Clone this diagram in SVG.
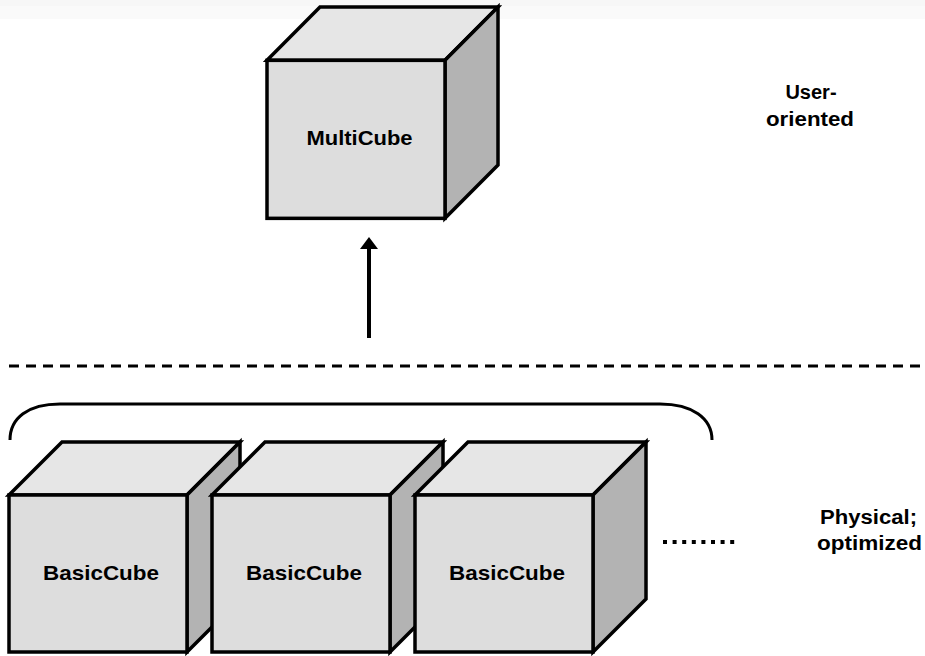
<svg xmlns="http://www.w3.org/2000/svg" width="925" height="656" viewBox="0 0 925 656">
<style>
.front{fill:#dddddd;stroke:#000;stroke-width:3.5;stroke-linejoin:miter}
.top{fill:#e6e6e6;stroke:#000;stroke-width:3.5;stroke-linejoin:miter}
.side{fill:#b3b3b3;stroke:#000;stroke-width:3.5;stroke-linejoin:miter}
.lbl{font-family:"Liberation Sans",Arial,sans-serif;font-weight:bold;font-size:21px;fill:#000;text-anchor:middle}
.side-lbl{font-family:"Liberation Sans",Arial,sans-serif;font-weight:bold;font-size:20px;fill:#000;text-anchor:middle}
</style>
<defs>
<g id="cube">
<polygon class="top" points="0,53 53,0 231,0 178,53"/>
<polygon class="side" points="178,53 231,0 231,157 178,210"/>
<rect class="front" x="0" y="53" width="178" height="157"/>
</g>
</defs>
<rect x="0" y="0" width="925" height="19" fill="#fafafa"/>
<rect x="0" y="0" width="925" height="6" fill="#f7f7f7"/>
<g id="multicube">
<use href="#cube" transform="translate(267,7) scale(1,1.0064)"/>
<text class="lbl" x="359.5" y="145" textLength="106" lengthAdjust="spacingAndGlyphs">MultiCube</text>
</g>
<g id="basiccube1">
<use href="#cube" transform="translate(9,442)"/>
<text class="lbl" x="101" y="580" textLength="116" lengthAdjust="spacingAndGlyphs">BasicCube</text>
</g>
<g id="basiccube2">
<use href="#cube" transform="translate(212,442)"/>
<text class="lbl" x="304" y="580" textLength="116" lengthAdjust="spacingAndGlyphs">BasicCube</text>
</g>
<g id="basiccube3">
<use href="#cube" transform="translate(415,442)"/>
<text class="lbl" x="507" y="580" textLength="116" lengthAdjust="spacingAndGlyphs">BasicCube</text>
</g>
<g id="connectors">
<line x1="369" y1="338" x2="369" y2="247" stroke="#000" stroke-width="4"/>
<polygon points="360,249 378,249 369,237" fill="#000"/>
<line x1="9" y1="366" x2="925" y2="366" stroke="#000" stroke-width="3" stroke-dasharray="10 7"/>
<path d="M 10 440 C 10 418, 28 404, 60 404 L 660 404 C 692 404, 712 418, 712 440" fill="none" stroke="#000" stroke-width="3"/>
<line x1="663" y1="542" x2="736" y2="542" stroke="#000" stroke-width="4" stroke-dasharray="4 5.6"/>
</g>
<g id="labels">
<text class="side-lbl" x="811" y="99">User-</text>
<text class="side-lbl" x="810" y="126" textLength="88" lengthAdjust="spacingAndGlyphs">oriented</text>
<text class="side-lbl" x="868.5" y="524" textLength="97" lengthAdjust="spacingAndGlyphs">Physical;</text>
<text class="side-lbl" x="869.5" y="550" textLength="105" lengthAdjust="spacingAndGlyphs">optimized</text>
</g>
</svg>
